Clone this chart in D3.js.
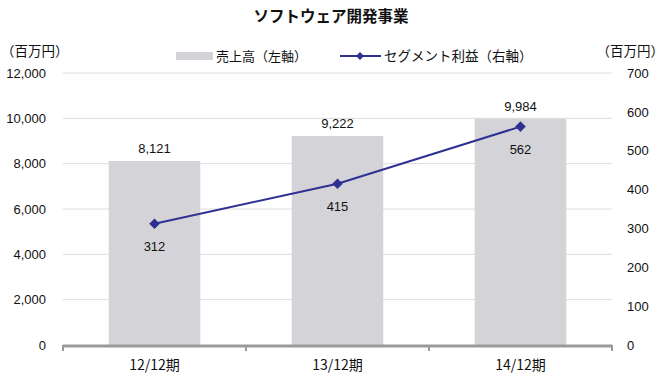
<!DOCTYPE html>
<html>
<head>
<meta charset="utf-8">
<script src="https://cdn.jsdelivr.net/npm/d3@7/dist/d3.min.js"></script>
<style>
body { margin: 0; background: #fff; }
text { font-family: "Liberation Sans", Arial, "Noto Sans CJK JP", sans-serif; fill: #111; }
.jp { font-family: "Noto Sans CJK JP", sans-serif; }
</style>
</head>
<body>
<svg id="chart" width="665" height="376"></svg>
<script>
var categories = ['12/12期', '13/12期', '14/12期'];
var sales = [8121, 9222, 9984];
var profit = [312, 415, 562];
var leftTicks = [0, 2000, 4000, 6000, 8000, 10000, 12000];
var rightTicks = [0, 100, 200, 300, 400, 500, 600, 700];

var svg = d3.select('#chart');
var plotLeft = 63, plotRight = 612, plotTop = 73, plotBottom = 345;

var x = d3.scaleBand().domain(categories).range([plotLeft, plotRight]).paddingInner(0.5).paddingOuter(0.25);
var xEdge = d3.scaleBand().domain(categories).range([plotLeft, plotRight]);
var yL = d3.scaleLinear().domain([0, 12000]).range([plotBottom, plotTop]);
var yR = d3.scaleLinear().domain([0, 700]).range([plotBottom, plotTop]);
var cx = function(i) { return x(categories[i]) + x.bandwidth() / 2; };

// title
svg.append('text').attr('class', 'jp')
	.attr('x', 331).attr('y', 22)
	.attr('text-anchor', 'middle')
	.attr('font-size', 15.5).attr('font-weight', 'bold')
	.text('ソフトウェア開発事業');

// unit labels
svg.append('text').attr('class', 'jp').attr('x', 1).attr('y', 56).attr('font-size', 13.5).text('（百万円）');
svg.append('text').attr('class', 'jp').attr('x', 664).attr('y', 56).attr('text-anchor', 'end').attr('font-size', 13.5).text('（百万円）');

// gridlines
svg.append('g').selectAll('line')
	.data(leftTicks.slice(1))
	.enter().append('line')
	.attr('x1', plotLeft).attr('x2', plotRight)
	.attr('y1', function(d) { return yL(d); })
	.attr('y2', function(d) { return yL(d); })
	.attr('stroke', '#dcdcdc').attr('stroke-width', 1);

// left axis
var axL = svg.append('g').attr('transform', 'translate(' + (plotLeft - 5) + ',0)')
	.call(d3.axisLeft(yL).tickValues(leftTicks).tickSize(0).tickPadding(12).tickFormat(d3.format(',')));
axL.select('.domain').remove();
axL.selectAll('text').attr('font-size', 13).style('font-family', '"Liberation Sans", Arial, sans-serif').attr('fill', '#111');

// right axis
var axR = svg.append('g').attr('transform', 'translate(' + (plotRight + 3) + ',0)')
	.call(d3.axisRight(yR).tickValues(rightTicks).tickSize(0).tickPadding(12));
axR.select('.domain').remove();
axR.selectAll('text').attr('font-size', 13).style('font-family', '"Liberation Sans", Arial, sans-serif').attr('fill', '#111');

// bars
svg.append('g').selectAll('rect')
	.data(sales)
	.enter().append('rect')
	.attr('x', function(d, i) { return x(categories[i]); })
	.attr('width', x.bandwidth())
	.attr('y', function(d) { return yL(d); })
	.attr('height', function(d) { return plotBottom - yL(d); })
	.attr('fill', '#d4d4d8');

svg.append('g').selectAll('text')
	.data(sales)
	.enter().append('text')
	.attr('x', function(d, i) { return cx(i); })
	.attr('y', function(d) { return yL(d) - 8; })
	.attr('text-anchor', 'middle').attr('font-size', 13)
	.text(function(d) { return d3.format(',')(d); });

// x axis
svg.append('line').attr('x1', plotLeft).attr('x2', plotRight).attr('y1', plotBottom + 1).attr('y2', plotBottom + 1)
	.attr('stroke', '#9a9a9a').attr('stroke-width', 3);
svg.append('g').selectAll('line')
	.data(categories.concat(['end']))
	.enter().append('line')
	.attr('x1', function(d, i) { return i < categories.length ? xEdge(d) : plotRight; })
	.attr('x2', function(d, i) { return i < categories.length ? xEdge(d) : plotRight; })
	.attr('y1', plotBottom).attr('y2', plotBottom + 6)
	.attr('stroke', '#9a9a9a').attr('stroke-width', 2);

svg.append('g').selectAll('text')
	.data(categories)
	.enter().append('text').attr('class', 'jp')
	.attr('x', function(d, i) { return cx(i); })
	.attr('y', 370)
	.attr('text-anchor', 'middle').attr('font-size', 14)
	.text(function(d) { return d; });

// line
var line = d3.line()
	.x(function(d, i) { return cx(i); })
	.y(function(d) { return yR(d); });

svg.append('path').datum(profit)
	.attr('d', line)
	.attr('fill', 'none').attr('stroke', '#2e3192').attr('stroke-width', 2);

var diamond = d3.symbol().type(d3.symbolSquare).size(56);
svg.append('g').selectAll('path')
	.data(profit)
	.enter().append('path')
	.attr('d', diamond)
	.attr('transform', function(d, i) { return 'translate(' + cx(i) + ',' + yR(d) + ') rotate(45)'; })
	.attr('fill', '#2e3192');

svg.append('g').selectAll('text')
	.data(profit)
	.enter().append('text')
	.attr('x', function(d, i) { return cx(i); })
	.attr('y', function(d) { return yR(d) + 27; })
	.attr('text-anchor', 'middle').attr('font-size', 13)
	.text(function(d) { return d; });

// legend
var lg = svg.append('g');
lg.append('rect').attr('x', 176).attr('y', 52).attr('width', 37).attr('height', 8).attr('fill', '#d4d4d8');
lg.append('text').attr('class', 'jp').attr('x', 216).attr('y', 61).attr('font-size', 13).text('売上高（左軸）');
lg.append('line').attr('x1', 340).attr('x2', 381).attr('y1', 56).attr('y2', 56).attr('stroke', '#2e3192').attr('stroke-width', 2);
lg.append('path').attr('d', d3.symbol().type(d3.symbolSquare).size(32)).attr('transform', 'translate(360,56) rotate(45)').attr('fill', '#2e3192');
lg.append('text').attr('class', 'jp').attr('x', 384).attr('y', 61).attr('font-size', 13.5).text('セグメント利益（右軸）');
</script>
</body>
</html>
